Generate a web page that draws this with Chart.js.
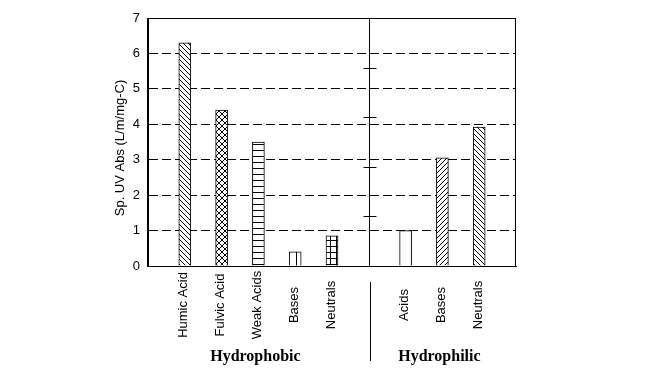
<!DOCTYPE html>
<html>
<head>
<meta charset="utf-8">
<script src="https://cdn.jsdelivr.net/npm/chart.js@4.4.1/dist/chart.umd.min.js"></script>
<style>
html, body { margin: 0; padding: 0; background: #fff; }
#wrap { width: 662px; height: 389px; position: relative; }
</style>
</head>
<body>
<div id="wrap"><canvas id="uvChart"></canvas></div>
<script>
// data (empty slots are the spacer positions)
const categories = ['', 'Humic Acid', 'Fulvic Acid', 'Weak Acids', 'Bases', 'Neutrals', '', 'Acids', 'Bases', 'Neutrals', ''];
const uvValues = [null, 6.3, 4.4, 3.5, 0.4, 0.85, null, 1.0, 3.05, 3.92, null];
const groupNames = ['Hydrophobic', 'Hydrophilic'];
const groupCenters = [3, 8];
const dividerAt = 6;
const dividerTicks = [1.4, 2.8, 4.2, 5.6];
const yTitle = 'Sp. UV Abs (L/m/mg-C)';

// hatch style per slot
const fills = ['none', 'back', 'cross', 'horiz', 'vert', 'grid', 'none', 'none', 'fwd', 'back', 'none'];

function makePattern(kind) {
    if (kind === 'none') return '#fff';
    const n = {back: 5, fwd: 5, cross: 6, horiz: 6, vert: 8, grid: 6}[kind];
    const c = document.createElement('canvas');
    c.width = n; c.height = n;
    const g = c.getContext('2d');
    g.fillStyle = '#fff';
    g.fillRect(0, 0, n, n);
    g.fillStyle = '#000';
    for (let i = 0; i < n; i++) {
        if (kind === 'back' || kind === 'cross') g.fillRect(i, i, 1, 1);
        if (kind === 'fwd' || kind === 'cross') g.fillRect(n - 1 - i, i, 1, 1);
    }
    if (kind === 'horiz' || kind === 'grid') g.fillRect(0, 0, n, 1);
    if (kind === 'vert' || kind === 'grid') g.fillRect(0, 0, 1, n);
    return g.createPattern(c, 'repeat');
}

const sans = '"Liberation Sans", Arial, sans-serif';

const overlay = {
    id: 'overlay',
    afterDraw(chart) {
        const {ctx, chartArea: a, scales: {x, y}} = chart;
        ctx.save();
        ctx.strokeStyle = '#000';
        ctx.lineWidth = 1;
        ctx.strokeRect(a.left - 0.5, a.top + 0.5, a.right - a.left, a.bottom - a.top);

        // divider between the two groups, with its odd little ticks
        const dx = Math.round(x.getPixelForValue(dividerAt)) + 0.5;
        ctx.beginPath();
        ctx.moveTo(dx, a.top);
        ctx.lineTo(dx, a.bottom);
        ctx.moveTo(dx + 1, a.bottom + 16);
        ctx.lineTo(dx + 1, a.bottom + 95);
        dividerTicks.forEach(v => {
            const py = Math.round(y.getPixelForValue(v)) + 0.5;
            ctx.moveTo(dx - 6, py);
            ctx.lineTo(dx + 7, py);
        });
        ctx.stroke();

        // category labels, rotated and centred
        ctx.fillStyle = '#000';
        ctx.font = '13px ' + sans;
        ctx.textAlign = 'center';
        ctx.textBaseline = 'middle';
        categories.forEach((lab, i) => {
            if (!lab) return;
            ctx.save();
            ctx.translate(x.getPixelForValue(i) - 1, a.bottom + 39);
            ctx.rotate(-Math.PI / 2);
            ctx.fillText(lab, 0, 0);
            ctx.restore();
        });

        ctx.font = 'bold 16px "Liberation Serif", "Times New Roman", serif';
        groupNames.forEach((g, i) => {
            ctx.fillText(g, x.getPixelForValue(groupCenters[i]) - 3, a.bottom + 91);
        });

        ctx.save();
        ctx.translate(120, (a.top + a.bottom) / 2 + 6);
        ctx.rotate(-Math.PI / 2);
        ctx.font = '13px ' + sans;
        ctx.fillText(yTitle, 0, 0);
        ctx.restore();
        ctx.restore();
    }
};

new Chart(document.getElementById('uvChart'), {
    type: 'bar',
    data: {
        labels: categories,
        datasets: [{
            data: uvValues,
            backgroundColor: fills.map(makePattern),
            borderColor: '#000',
            borderWidth: 1,
            barThickness: 12
        }]
    },
    options: {
        responsive: true,
        maintainAspectRatio: false,
        devicePixelRatio: 1,
        animation: false,
        layout: {padding: {left: 108, right: 146, top: 18, bottom: 0}},
        plugins: {legend: {display: false}, tooltip: {enabled: false}},
        scales: {
            x: {
                type: 'category',
                offset: false,
                grid: {display: false},
                ticks: {display: false},
                border: {display: true, color: '#000'},
                afterFit: s => { s.height = 123; }
            },
            y: {
                min: 0,
                max: 7,
                ticks: {stepSize: 1, color: '#000', padding: 8, font: {family: sans, size: 13}},
                grid: {
                    drawTicks: false,
                    color: c => (c.tick && (c.tick.value === 0 || c.tick.value === 7)) ? 'rgba(0,0,0,0)' : '#000'
                },
                border: {display: true, color: '#000', dash: [9, 4]},
                afterFit: s => { s.width = 40; }
            }
        }
    },
    plugins: [overlay]
});
</script>
</body>
</html>
